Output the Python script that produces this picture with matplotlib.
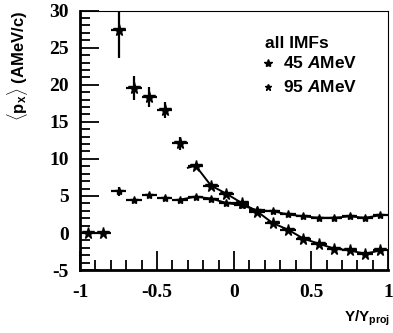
import matplotlib.pyplot as plt
import numpy as np
from matplotlib.ticker import MultipleLocator

plt.rcParams['mathtext.fontset'] = 'custom'
plt.rcParams['mathtext.rm'] = 'Liberation Sans:bold'
plt.rcParams['mathtext.it'] = 'Liberation Sans:bold:italic'
plt.rcParams['mathtext.bf'] = 'Liberation Sans:bold'

# mean transverse momentum vs scaled rapidity, all IMFs
x45 = [-0.95, -0.85, -0.75, -0.65, -0.55, -0.45, -0.35, -0.25, -0.15, -0.05,
       0.05, 0.15, 0.25, 0.35, 0.45, 0.55, 0.65, 0.75, 0.85, 0.95]
y45 = [0.0, 0.0, 27.4, 19.6, 18.3, 16.6, 12.1, 9.1, 6.4, 5.3,
       4.05, 2.9, 1.35, 0.45, -0.75, -1.45, -2.1, -2.35, -2.8, -2.35]
e45 = [0.1, 0.1, 3.8, 1.6, 1.35, 1.1, 0.9, 0.4, 0.3, 0.3,
       0.3, 0.3, 0.3, 0.3, 0.3, 0.3, 0.3, 0.3, 0.3, 0.3]

x95 = [-0.75, -0.65, -0.55, -0.45, -0.35, -0.25, -0.15, -0.05, 0.05,
       0.15, 0.25, 0.35, 0.45, 0.55, 0.65, 0.75, 0.85, 0.95]
y95 = [5.65, 4.4, 5.1, 4.75, 4.5, 4.9, 4.65, 4.05, 3.75,
       3.05, 2.95, 2.5, 2.25, 2.05, 2.05, 2.25, 2.05, 2.4]
e95 = [0.6, 0.2, 0.2, 0.2, 0.2, 0.2, 0.2, 0.2, 0.2,
       0.2, 0.2, 0.2, 0.2, 0.2, 0.2, 0.2, 0.2, 0.2]

xticks = [-1, -0.5, 0, 0.5, 1]
xticklabels = ['-1', '-0.5', '0', '0.5', '1']
yticks = [-5, 0, 5, 10, 15, 20, 25, 30]

# curves drawn over the mid/forward rapidity region
fit45_from = -0.25
fit95_from = -0.35

fig = plt.figure(figsize=(3.93, 3.33), dpi=100)
ax = fig.add_axes([0.2036, 0.189, 0.784, 0.779])

ax.errorbar(x45, y45, xerr=0.05, yerr=e45, fmt='*', color='black', ms=8.5,
            elinewidth=1.6, capsize=0)
ax.errorbar(x95, y95, xerr=0.05, yerr=e95, fmt='*', color='black', ms=6,
            elinewidth=1.6, capsize=0)

xa = np.array(x45); ya = np.array(y45)
m = xa >= fit45_from
ax.plot(np.r_[fit45_from - 0.05, xa[m]], np.r_[ya[m][0] - 0.3, ya[m]], color='black', lw=1.4)
xb = np.array(x95); yb = np.array(y95)
m = xb >= fit95_from
ax.plot(xb[m], yb[m], color='black', lw=1.4)

ax.set_xlim(-1, 1)
ax.set_ylim(-5, 30)
ax.xaxis.set_minor_locator(MultipleLocator(0.1))
ax.yaxis.set_minor_locator(MultipleLocator(1))
ax.tick_params(which='both', direction='in', top=False, right=False, width=1.3)
ax.tick_params(which='major', length=14, pad=10)
ax.tick_params(which='minor', length=7)
ax.tick_params(axis='y', pad=8)

serif = {'family': 'Liberation Serif', 'weight': 'heavy', 'size': 14}
ax.set_xticks(xticks)
ax.set_xticklabels(xticklabels, fontdict=serif)
ax.set_yticks(yticks)
ax.set_yticklabels([str(v) for v in yticks], fontdict=serif)

ax.spines['left'].set_linewidth(2)
ax.spines['bottom'].set_linewidth(2)
ax.spines['top'].set_linewidth(0.8)
ax.spines['right'].set_linewidth(0.8)

sans = {'family': 'Liberation Sans', 'weight': 'bold', 'size': 11}
fig.text(0.993, 0.045, r'Y/Y$_{\mathrm{proj}}$', ha='right', va='center', fontdict=sans)
fig.text(0.045, 0.968, r'$\langle\mathrm{p}_{\mathrm{x}}\rangle\ (\mathrm{AMeV/c})$', rotation=90,
         ha='center', va='top', fontdict={'size': 12})

leg = {'family': 'Liberation Sans', 'weight': 'bold', 'size': 12.5}
ax.text(0.6, 0.875, 'all IMFs', transform=ax.transAxes, va='center', fontdict=leg)
ax.plot([0.61], [0.8], marker='*', ms=6, color='black', transform=ax.transAxes)
ax.text(0.66, 0.8, r'45 $A$MeV', transform=ax.transAxes, va='center', fontdict=leg)
ax.plot([0.61], [0.705], marker='*', ms=5, color='black', transform=ax.transAxes)
ax.text(0.66, 0.705, r'95 $A$MeV', transform=ax.transAxes, va='center', fontdict=leg)

fig.savefig('out.png', dpi=100)
